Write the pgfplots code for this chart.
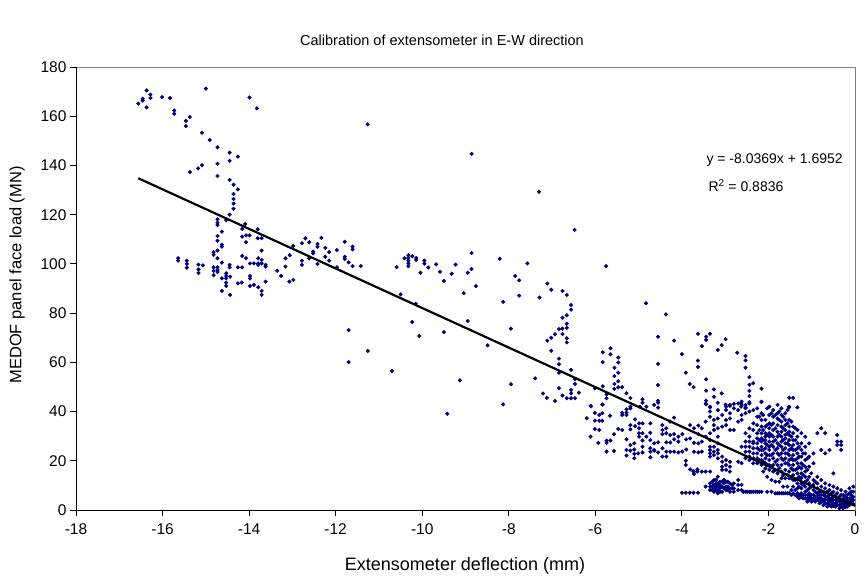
\documentclass[border=0pt]{standalone}
\usepackage{pgfplots}
\pgfplotsset{compat=1.18}
\usepackage{fontspec}
\setmainfont{Liberation Sans}
\definecolor{navy}{RGB}{0,0,128}
\definecolor{frame}{RGB}{128,128,128}
\pgfplotsset{common/.style={
  at={(76pt,69pt)}, anchor=south west,
  width=779pt, height=443pt, scale only axis,
  xmin=-18, xmax=0, ymin=0, ymax=180}}
\begin{document}
\begin{tikzpicture}
\useasboundingbox (0,0) rectangle (865pt,579pt);
\begin{axis}[
  common,
  xtick={-18,-16,-14,-12,-10,-8,-6,-4,-2,0},
  xticklabels={-18,-16,-14,-12,-10,-8,-6,-4,-2,0},
  ytick={0,20,40,60,80,100,120,140,160,180},
  yticklabels={0,20,40,60,80,100,120,140,160,180},
  tick align=outside, tick pos=left,
  major tick length=6pt,
  tick style={black, line width=0.8pt},
  axis line style={draw=frame, line width=0.9pt},
  ticklabel style={font=\fontsize{15.5}{18}\selectfont},
  xticklabel style={yshift=-4pt},
  /pgf/number format/assume math mode=true,
  clip=false,
]
\addplot[only marks, mark=square*, mark size=1.3pt, mark options={rotate=45}, color=navy] table {
x y
-16.56 165.1
-16.46 167.1
-16.46 166.3
-16.37 170.5
-16.37 163.6
-16.28 168.8
-16.28 167.4
-16.01 167.8
-15.83 167.4
-15.00 171.2
-15.73 162.3
-15.73 161.0
-15.46 158.1
-15.46 156.0
-15.37 159.7
-15.09 153.3
-14.91 150.3
-14.73 147.4
-14.45 145.2
-14.45 141.9
-14.26 143.6
-14.73 140.7
-14.73 135.7
-15.09 140.1
-15.18 138.8
-15.37 137.3
-13.99 167.6
-13.82 163.2
-14.45 134.1
-14.36 132.2
-14.26 130.3
-14.36 128.4
-14.36 126.4
-14.36 124.5
-14.36 122.4
-14.45 120.0
-14.73 118.1
-14.73 116.7
-14.73 115.8
-14.53 117.8
-14.09 116.2
-14.16 114.2
-14.16 111.1
-14.07 111.6
-13.99 111.6
-14.07 108.8
-13.80 114.1
-13.80 110.4
-13.71 110.5
-14.73 111.3
-14.73 109.4
-14.63 113.1
-14.63 107.8
-14.63 107.0
-14.82 104.8
-14.82 103.7
-14.73 105.4
-14.63 100.5
-14.73 102.3
-14.82 98.6
-14.82 97.2
-14.73 98.6
-14.73 97.5
-14.73 96.7
-14.82 95.4
-15.64 102.3
-15.64 101.3
-15.44 101.3
-15.44 100.0
-15.44 98.4
-15.17 99.7
-15.17 97.7
-15.17 96.3
-15.07 99.4
-14.53 96.2
-14.53 95.1
-14.53 94.1
-14.44 94.8
-14.53 92.4
-14.53 91.0
-14.63 94.1
-14.63 89.0
-14.44 87.4
-14.45 99.6
-14.45 98.6
-14.26 98.6
-14.16 98.6
-14.16 103.2
-14.07 102.3
-13.98 100.2
-13.89 100.2
-13.79 102.3
-13.79 100.2
-13.79 99.6
-13.71 101.6
-13.71 100.2
-13.62 99.6
-13.62 98.9
-13.71 105.4
-13.98 95.1
-13.98 94.1
-14.17 92.4
-14.26 92.1
-13.98 91.0
-13.89 91.5
-13.79 90.5
-13.71 89.0
-13.71 87.4
-13.62 92.8
-13.35 97.2
-13.26 95.1
-13.16 102.3
-13.16 98.9
-13.06 103.5
-13.07 92.8
-12.98 93.5
-12.98 107.3
-12.78 108.4
-12.70 110.4
-12.61 108.8
-12.52 105.0
-12.52 104.3
-12.42 108.1
-12.42 107.0
-12.33 110.6
-12.78 101.3
-12.78 99.6
-12.61 102.3
-12.42 100.0
-12.24 106.5
-12.24 102.9
-12.15 104.8
-12.15 101.3
-11.97 105.6
-11.79 109.0
-11.79 102.9
-11.79 102.0
-11.70 100.6
-11.61 107.0
-11.61 105.9
-11.61 99.1
-11.42 99.1
-11.97 98.6
-11.26 156.7
-11.70 73.1
-11.70 60.1
-11.26 64.6
-10.70 56.5
-10.59 98.7
-10.50 87.6
-10.41 102.3
-10.32 103.5
-10.32 102.4
-10.32 101.3
-10.32 100.2
-10.32 99.1
-10.23 103.1
-10.14 102.4
-10.14 101.6
-10.04 96.4
-10.15 83.8
-10.23 76.4
-10.07 70.7
-9.95 101.3
-9.95 100.1
-9.86 98.5
-9.68 99.8
-9.59 96.8
-9.50 93.1
-9.50 72.3
-9.42 39.1
-9.32 96.0
-9.23 99.7
-9.13 52.7
-9.04 88.1
-8.95 96.4
-8.95 76.8
-8.86 104.4
-8.86 97.9
-8.76 91.0
-8.49 66.9
-8.21 102.1
-8.13 84.6
-8.13 42.9
-7.95 73.7
-7.95 51.1
-7.85 95.1
-7.76 93.3
-7.76 87.1
-7.57 100.2
-7.39 53.5
-7.29 86.3
-7.21 47.3
-7.12 45.6
-7.11 92.0
-7.02 89.5
-6.93 44.3
-7.11 68.8
-7.02 70.0
-6.93 71.4
-6.84 73.5
-7.02 64.7
-6.84 61.5
-6.84 59.2
-6.84 55.8
-6.84 49.5
-8.86 144.7
-7.30 129.3
-6.48 113.8
-5.75 99.1
-6.76 89.0
-6.66 87.4
-6.56 83.3
-6.56 81.4
-6.66 79.1
-6.76 78.1
-6.66 75.7
-6.76 73.7
-6.66 74.0
-6.76 71.5
-6.66 69.8
-6.66 68.1
-6.56 56.9
-6.47 53.1
-6.76 46.5
-6.66 45.4
-6.56 45.4
-6.47 45.4
-6.38 47.7
-6.56 47.4
-6.56 48.8
-6.47 51.2
-6.10 42.1
-6.01 49.4
-5.83 64.1
-5.83 60.1
-5.65 65.7
-5.65 63.3
-5.47 62.0
-5.47 59.9
-5.56 57.8
-5.47 55.8
-5.56 54.4
-5.47 52.3
-5.56 51.2
-5.47 49.9
-5.38 49.9
-5.56 49.2
-5.83 50.3
-5.83 42.8
-5.74 47.0
-5.74 45.4
-5.28 47.4
-5.19 45.5
-5.19 42.0
-4.91 45.0
-4.91 43.6
-4.82 42.0
-4.64 42.7
-4.55 44.4
-4.55 43.6
-4.55 41.6
-4.83 84.0
-4.37 79.5
-4.55 70.4
-4.55 59.4
-4.55 50.8
-4.18 68.8
-4.00 63.3
-3.91 55.8
-3.82 51.2
-3.73 49.9
-3.63 71.6
-3.63 60.7
-3.63 58.1
-3.44 70.4
-3.44 69.1
-3.35 71.6
-3.54 66.6
-2.99 69.4
-3.08 67.0
-3.17 65.0
-2.72 63.9
-2.53 62.6
-2.53 60.8
-2.53 57.8
-2.44 54.0
-2.44 50.9
-2.35 51.5
-2.44 48.4
-2.44 46.3
-2.44 43.8
-2.16 49.3
-2.16 43.9
-3.44 53.1
-3.44 48.5
-3.44 44.4
-3.44 42.9
-3.26 49.0
-3.26 46.0
-3.08 47.4
-3.17 43.6
-3.35 41.7
-1.52 45.6
-1.43 45.6
-1.52 41.7
-1.33 41.7
-2.99 42.8
-2.89 42.3
-2.80 43.1
-2.63 43.4
-2.53 42.7
-2.63 42.0
-2.53 41.7
-6.11 42.3
-5.84 42.9
-6.20 37.3
-6.01 39.5
-6.01 36.3
-5.91 38.6
-5.84 39.3
-5.91 36.3
-5.84 36.3
-6.01 32.9
-5.91 32.5
-6.11 29.8
-5.93 27.3
-5.74 28.2
-5.65 28.2
-5.74 23.7
-5.57 24.0
-5.74 27.3
-5.66 38.3
-5.47 32.9
-5.38 32.5
-5.57 30.8
-5.38 39.5
-5.38 38.6
-5.28 40.9
-5.28 39.5
-5.28 38.6
-5.19 41.3
-5.08 36.8
-5.19 34.5
-5.19 32.8
-5.08 34.1
-4.99 35.2
-4.91 35.2
-4.99 33.2
-4.99 31.2
-5.10 27.1
-4.99 29.8
-4.91 31.2
-5.28 28.7
-5.19 26.4
-5.28 24.4
-5.19 24.1
-5.28 22.1
-5.10 24.6
-5.10 22.8
-5.01 23.0
-4.91 23.4
-5.10 21.0
-4.91 25.7
-4.91 28.2
-4.73 35.2
-4.73 31.4
-4.73 28.4
-4.73 25.1
-4.64 27.1
-4.64 24.4
-4.55 27.5
-4.73 23.7
-4.73 21.4
-4.82 29.8
-4.45 34.5
-4.45 32.5
-4.45 30.8
-4.36 33.2
-4.36 31.2
-4.27 35.9
-4.27 30.5
-4.18 37.5
-4.18 30.8
-4.36 27.5
-4.27 27.4
-4.18 28.7
-4.08 29.8
-4.08 27.8
-3.99 30.8
-3.90 28.7
-4.45 25.1
-4.36 23.7
-4.27 23.7
-4.18 23.7
-4.08 23.4
-3.99 23.7
-3.90 24.6
-4.36 21.7
-4.45 21.7
-4.55 23.4
-4.64 24.1
-3.91 20.0
-3.91 18.3
-3.81 16.5
-3.72 15.6
-3.64 16.5
-3.72 14.6
-3.81 34.5
-3.72 33.2
-3.62 34.3
-3.62 30.8
-3.72 27.3
-3.62 27.1
-3.72 23.7
-3.62 23.4
-3.81 29.1
-4.00 7.0
-3.91 7.0
-3.82 7.0
-3.73 7.0
-3.63 7.0
-4.97 42.0
-3.74 15.8
-3.64 15.6
-3.54 33.2
-3.54 27.8
-3.54 23.7
-3.54 15.6
-3.45 43.3
-3.45 35.9
-3.45 29.8
-3.45 15.6
-3.45 9.5
-3.35 42.0
-3.35 40.0
-3.35 37.9
-3.35 31.2
-3.35 28.4
-3.35 25.7
-3.35 24.4
-3.35 23.0
-3.35 21.7
-3.35 15.6
-3.35 10.8
-3.35 9.5
-3.35 8.1
-3.26 36.6
-3.26 34.5
-3.26 32.5
-3.26 25.7
-3.26 23.7
-3.26 22.3
-3.26 12.2
-3.26 10.2
-3.26 8.8
-3.26 7.4
-3.17 40.6
-3.17 37.2
-3.17 33.2
-3.17 29.8
-3.17 27.1
-3.17 24.4
-3.17 23.0
-3.17 21.0
-3.17 13.5
-3.17 10.8
-3.17 9.5
-3.17 8.1
-3.17 6.8
-3.07 38.6
-3.07 33.9
-3.07 21.7
-3.07 19.6
-3.07 17.6
-3.07 16.3
-3.07 11.5
-3.07 9.5
-3.07 7.4
-2.98 42.0
-2.98 40.6
-2.98 36.6
-2.98 34.5
-2.98 20.3
-2.98 18.3
-2.98 16.3
-2.98 11.5
-2.98 9.5
-2.98 8.1
-2.89 42.7
-2.89 39.3
-2.89 37.2
-2.89 32.5
-2.89 19.6
-2.89 17.6
-2.89 15.6
-2.89 10.8
-2.89 8.8
-2.89 7.4
-2.80 41.3
-2.80 32.5
-2.80 10.8
-2.80 8.8
-2.80 7.4
-2.70 43.3
-2.70 40.6
-2.70 35.9
-2.70 19.6
-2.70 12.2
-2.70 10.2
-2.70 8.1
-2.62 44.0
-2.62 42.7
-2.62 38.6
-2.62 36.6
-2.62 25.7
-2.62 19.0
-2.62 10.2
-2.62 8.1
-2.53 41.3
-2.53 39.3
-2.53 31.2
-2.53 27.8
-2.53 25.7
-2.53 23.7
-2.53 21.0
-2.53 7.4
-2.44 43.3
-2.44 40.0
-2.44 33.2
-2.44 29.8
-2.44 27.8
-2.44 25.7
-2.44 23.7
-2.44 21.7
-2.44 20.3
-2.44 7.4
-2.35 40.6
-2.35 35.2
-2.35 32.5
-2.35 27.8
-2.35 27.1
-2.35 25.1
-2.35 23.0
-2.35 21.0
-2.35 19.0
-2.35 7.4
-2.26 41.3
-2.26 37.9
-2.26 34.5
-2.26 31.2
-2.26 29.1
-2.26 27.1
-2.26 25.1
-2.26 23.0
-2.26 21.0
-2.26 19.0
-2.26 7.4
-2.16 44.0
-2.16 39.3
-2.16 36.6
-2.16 33.9
-2.16 31.2
-2.16 29.1
-2.16 27.8
-2.16 25.7
-2.16 24.4
-2.16 22.3
-2.16 20.3
-2.16 18.3
-2.16 7.4
-2.07 36.6
-2.07 33.9
-2.07 31.2
-2.07 29.8
-2.07 28.4
-2.07 27.1
-2.07 25.1
-2.07 23.0
-2.07 21.0
-2.07 19.0
-2.07 16.9
-1.98 42.0
-1.98 38.6
-1.98 35.2
-1.98 33.2
-1.98 31.2
-1.98 29.8
-1.98 27.8
-1.98 25.7
-1.98 24.4
-1.98 22.3
-1.98 20.3
-1.98 18.3
-1.98 16.3
-1.89 40.6
-1.89 37.9
-1.89 35.2
-1.89 32.5
-1.89 29.8
-1.89 27.8
-1.89 25.7
-1.89 23.0
-1.89 21.0
-1.89 18.3
-1.89 15.6
-1.79 42.7
-1.79 39.3
-1.79 37.2
-1.79 34.5
-1.79 31.8
-1.79 29.8
-1.79 27.1
-1.79 25.1
-1.79 23.0
-1.79 20.3
-1.79 18.3
-1.79 14.9
-1.79 6.8
-1.70 41.3
-1.70 38.6
-1.70 35.9
-1.70 33.9
-1.70 31.8
-1.70 29.8
-1.70 27.8
-1.70 25.7
-1.70 23.0
-1.70 21.0
-1.70 18.3
-1.70 15.6
-1.70 12.9
-1.70 6.8
-1.61 39.3
-1.61 36.6
-1.61 34.5
-1.61 32.5
-1.61 30.5
-1.61 29.1
-1.61 27.1
-1.61 25.1
-1.61 23.0
-1.61 21.0
-1.61 19.0
-1.61 16.3
-1.61 12.9
-1.61 6.8
-1.52 42.0
-1.52 36.6
-1.52 33.9
-1.52 31.8
-1.52 30.5
-1.52 28.4
-1.52 26.4
-1.52 24.4
-1.52 22.3
-1.52 20.3
-1.52 18.3
-1.52 15.6
-1.52 12.9
-1.52 6.8
-1.43 33.9
-1.43 31.2
-1.43 28.4
-1.43 26.4
-1.43 24.4
-1.43 22.3
-1.43 20.3
-1.43 18.3
-1.43 16.3
-1.43 14.2
-1.43 12.2
-1.43 9.5
-1.43 6.8
-1.33 32.5
-1.33 29.8
-1.33 27.1
-1.33 25.1
-1.33 23.0
-1.33 21.0
-1.33 19.0
-1.33 16.9
-1.33 14.9
-1.33 12.9
-1.33 10.8
-1.33 8.8
-1.33 6.8
-1.33 5.4
-1.24 31.2
-1.24 27.1
-1.24 24.4
-1.24 21.7
-1.24 19.0
-1.24 16.9
-1.24 14.9
-1.24 12.9
-1.24 10.8
-1.24 8.8
-1.24 6.8
-1.24 5.4
-1.15 29.8
-1.15 25.7
-1.15 23.0
-1.15 20.3
-1.15 17.6
-1.15 15.6
-1.15 13.5
-1.15 11.5
-1.15 9.5
-1.15 7.4
-1.15 6.1
-1.15 4.7
-1.06 27.1
-1.06 21.7
-1.06 17.6
-1.06 13.5
-1.06 10.8
-1.06 8.8
-1.06 6.8
-1.06 5.4
-1.06 4.1
-0.96 23.0
-0.96 19.0
-0.96 12.2
-0.96 10.2
-0.96 8.1
-0.96 6.1
-0.96 4.7
-0.96 4.1
-0.87 31.2
-0.87 13.5
-0.87 10.8
-0.87 8.8
-0.87 6.8
-0.87 5.4
-0.87 4.1
-0.78 33.2
-0.78 24.4
-0.78 12.2
-0.78 9.5
-0.78 7.4
-0.78 6.1
-0.78 4.7
-0.78 3.4
-0.69 31.2
-0.69 23.0
-0.69 10.8
-0.69 8.8
-0.69 6.8
-0.69 5.4
-0.69 4.1
-0.69 2.7
-0.59 24.4
-0.59 10.2
-0.59 8.1
-0.59 6.1
-0.59 4.7
-0.59 3.4
-0.59 2.0
-0.50 14.9
-0.50 9.5
-0.50 7.4
-0.50 5.4
-0.50 4.1
-0.50 2.7
-0.50 1.6
-0.41 30.5
-0.41 27.8
-0.41 26.4
-0.41 8.8
-0.41 6.8
-0.41 4.7
-0.41 3.4
-0.41 2.0
-0.32 27.8
-0.32 26.4
-0.32 24.4
-0.32 8.1
-0.32 6.1
-0.32 4.1
-0.32 2.7
-0.32 1.4
-0.22 7.4
-0.22 5.4
-0.22 4.1
-0.22 2.7
-0.22 1.1
-0.13 8.8
-0.13 6.8
-0.13 4.7
-0.13 3.4
-0.13 2.0
-0.04 9.5
-0.04 7.4
-0.04 5.4
-0.04 4.1
-0.04 2.4
-2.58 7.4
-2.49 7.4
-2.40 7.4
-2.30 7.4
-2.21 37.9
-2.21 32.5
-2.21 28.4
-2.21 24.4
-2.21 20.3
-2.21 7.4
-2.12 38.6
-2.12 32.5
-2.12 28.4
-2.12 24.4
-2.12 19.6
-2.12 15.6
-2.03 41.3
-2.03 34.5
-2.03 30.5
-2.03 26.4
-2.03 22.3
-2.03 18.3
-2.03 13.5
-2.03 7.4
-1.93 39.3
-1.93 34.5
-1.93 30.5
-1.93 26.4
-1.93 22.3
-1.93 17.6
-1.93 12.2
-1.93 7.4
-1.84 38.6
-1.84 33.2
-1.84 28.4
-1.84 24.4
-1.84 19.6
-1.84 16.3
-1.84 11.5
-1.84 6.8
-1.75 40.0
-1.75 36.6
-1.75 30.5
-1.75 26.4
-1.75 22.3
-1.75 17.0
-1.75 11.5
-1.75 6.8
-1.66 37.9
-1.66 33.2
-1.66 28.4
-1.66 24.4
-1.66 20.3
-1.66 14.2
-1.66 9.5
-1.66 6.8
-1.56 40.6
-1.56 35.2
-1.56 31.2
-1.56 27.1
-1.56 23.0
-1.56 19.0
-1.56 14.2
-1.56 9.5
-1.56 6.8
-1.47 35.9
-1.47 29.8
-1.47 25.1
-1.47 21.0
-1.47 16.9
-1.47 12.9
-1.47 8.1
-1.47 6.1
-1.38 33.2
-1.38 28.4
-1.38 24.4
-1.38 20.3
-1.38 16.3
-1.38 12.2
-1.38 8.1
-1.38 6.1
-1.29 25.7
-1.29 21.7
-1.29 17.6
-1.29 13.5
-1.29 9.5
-1.29 6.1
-1.29 4.7
-1.20 23.0
-1.20 18.3
-1.20 14.2
-1.20 10.2
-1.20 6.1
-1.20 4.7
-1.10 21.0
-1.10 16.3
-1.10 12.2
-1.10 8.1
-1.10 6.1
-1.10 4.7
-1.10 3.4
-1.01 14.9
-1.01 9.5
-1.01 6.1
-1.01 4.7
-1.01 3.4
-0.92 11.5
-0.92 7.4
-0.92 5.4
-0.92 4.1
-0.92 3.4
-0.82 7.4
-0.82 6.1
-0.82 4.7
-0.82 3.4
-0.82 2.7
-0.73 7.4
-0.73 6.1
-0.73 4.1
-0.73 3.4
-0.73 2.0
-0.64 7.4
-0.64 5.4
-0.64 4.1
-0.64 2.7
-0.64 1.4
-0.55 6.8
-0.55 4.7
-0.55 3.4
-0.55 2.0
-0.55 1.4
-0.45 6.1
-0.45 4.1
-0.45 2.7
-0.45 1.4
-0.36 5.4
-0.36 3.4
-0.36 2.0
-0.36 0.7
-0.27 6.1
-0.27 4.7
-0.27 3.4
-0.27 2.0
-0.27 0.7
-0.18 6.1
-0.18 4.7
-0.18 3.4
-0.18 2.0
-0.18 1.4
-0.09 7.4
-0.09 6.1
-0.09 4.7
-0.09 3.4
-0.09 2.7
-3.30 11.5
-3.30 9.5
-3.30 8.1
-3.21 12.2
-3.21 10.8
-3.21 9.5
-3.21 8.1
-3.12 11.5
-3.12 10.2
-3.12 8.8
-3.12 7.4
-3.03 12.2
-3.03 10.8
-3.03 8.8
-2.94 11.5
-2.94 9.5
-2.94 8.1
-2.84 10.2
-2.84 8.8
};
\draw[black, line width=0.9pt] (rel axis cs:0,1) -- (rel axis cs:0,0) -- (rel axis cs:1,0);
\end{axis}
\begin{axis}[common, hide axis, clip=false]
\addplot[black, line width=2.2pt, no marks] coordinates {(-16.56,134.79) (0,1.6952)};
\end{axis}
\node[font=\fontsize{14.5}{16}\selectfont] at (442pt,539pt) {Calibration of extensometer in E-W direction};
\node[font=\fontsize{18}{20}\selectfont] at (465pt,13pt) {Extensometer deflection (mm)};
\node[font=\fontsize{16.5}{18}\selectfont, rotate=90] at (17pt,304pt) {MEDOF panel face load (MN)};
\node[font=\fontsize{14}{16}\selectfont, anchor=west] at (703pt,419pt) {y = -8.0369x + 1.6952};
\node[font=\fontsize{14}{16}\selectfont, anchor=west] at (705pt,393pt) {R\textsuperscript{2} = 0.8836};
\end{tikzpicture}
\end{document}
